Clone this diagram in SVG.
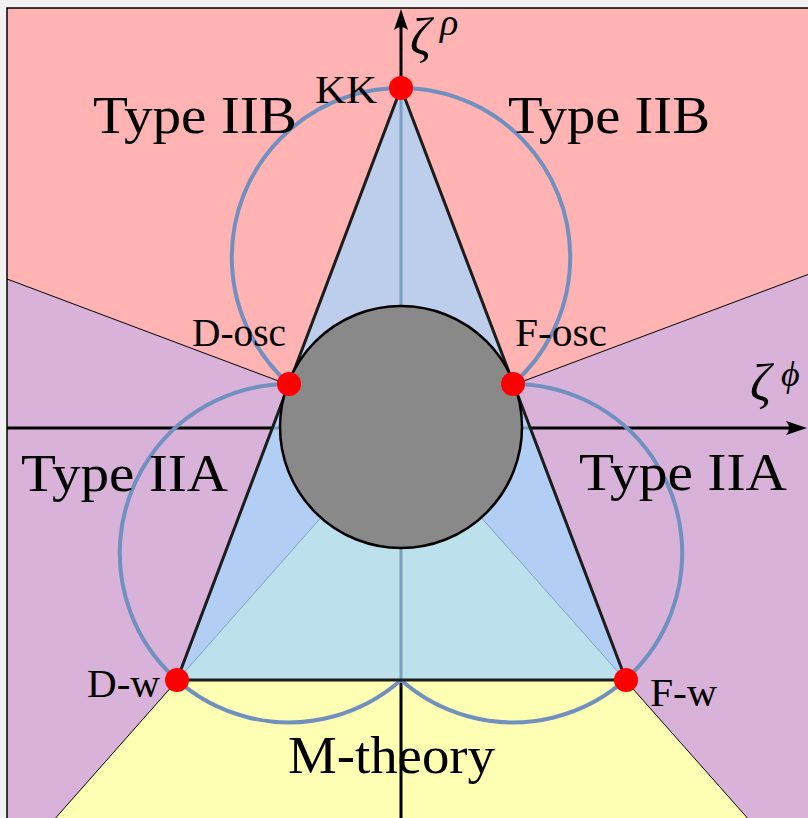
<svg xmlns="http://www.w3.org/2000/svg" width="808" height="818" viewBox="0 0 808 818">
<defs>
<style>
.lbl{font-family:"Liberation Serif","DejaVu Serif",serif;fill:#000}
.big{font-size:53px}
.sm{font-size:39px}
.zeta{font-family:"Liberation Serif","DejaVu Serif",serif;font-style:italic;fill:#000}
.bnd{stroke:#000;stroke-width:1;fill:none}
.axis{stroke:#000;stroke-width:3;fill:none}
.arc{stroke:#7090bf;stroke-width:4;fill:none}
.dot{fill:#ff0000}
</style>
<clipPath id="frame"><rect x="7" y="8" width="810" height="820"/></clipPath>
<marker id="arr" markerUnits="userSpaceOnUse" viewBox="0 0 24 16" markerWidth="24" markerHeight="16" refX="14" refY="8" orient="auto">
<path d="M22,8 L1,1 Q7,8 1,15 Z" fill="#000"/>
</marker>
</defs>
<rect x="0" y="0" width="808" height="818" fill="#f2f2f2"/>
<g id="regions" clip-path="url(#frame)">
<polygon points="401,427 7,279 7,8 820,8 820,270" fill="#ffb3b3"/>
<polygon points="401,427 7,279 7,830 45,830" fill="#d8b2d8"/>
<polygon points="401,427 820,270 820,830 758,830" fill="#d8b2d8"/>
<polygon points="401,427 45,830 758,830" fill="#ffffb3"/>
<path class="bnd" d="M401,427 L7,279 M401,427 L820,270 M401,427 L45,830 M401,427 L758,830"/>
</g>
<rect x="7" y="8" width="812" height="822" fill="none" stroke="#000" stroke-width="1.5"/>
<g id="axes">
<line class="axis" x1="7" y1="428" x2="799" y2="428" marker-end="url(#arr)"/>
<line class="axis" x1="401" y1="818" x2="401" y2="17" marker-end="url(#arr)"/>
</g>
<g id="connectors">
<path class="arc" d="M289,384 A169.2,169.2 0 1 1 513,384"/>
<path class="arc" d="M289,384 A169.2,169.2 0 1 0 401,680"/>
<path class="arc" d="M513,384 A169.2,169.2 0 1 1 401,680"/>
<polygon points="401,88 177,680 626,680" fill="rgb(165,215,255)" fill-opacity="0.75" stroke="#1c1c1c" stroke-width="3" stroke-linejoin="round"/>
</g>
<g id="singularity">
<circle cx="401" cy="427" r="121" fill="#898989" stroke="#000" stroke-width="2.5"/>
</g>
<g id="KK"><circle class="dot" cx="401" cy="88" r="12"/><text class="lbl sm" x="315" y="103" textLength="62" lengthAdjust="spacingAndGlyphs">KK</text></g>
<g id="D-osc"><circle class="dot" cx="289" cy="384" r="12"/><text class="lbl sm" x="192" y="346" textLength="94" lengthAdjust="spacingAndGlyphs">D-osc</text></g>
<g id="F-osc"><circle class="dot" cx="513" cy="384" r="12"/><text class="lbl sm" x="515" y="346" textLength="92" lengthAdjust="spacingAndGlyphs">F-osc</text></g>
<g id="D-w"><circle class="dot" cx="177" cy="680" r="12"/><text class="lbl sm" x="87" y="697" textLength="73" lengthAdjust="spacingAndGlyphs">D-w</text></g>
<g id="F-w"><circle class="dot" cx="626" cy="680" r="12"/><text class="lbl sm" x="650" y="706" textLength="67" lengthAdjust="spacingAndGlyphs">F-w</text></g>
<g id="typeIIB-left"><text class="lbl big" x="93" y="133" textLength="204" lengthAdjust="spacingAndGlyphs">Type IIB</text></g>
<g id="typeIIB-right"><text class="lbl big" x="508" y="133" textLength="202" lengthAdjust="spacingAndGlyphs">Type IIB</text></g>
<g id="typeIIA-left"><text class="lbl big" x="21" y="491" textLength="207" lengthAdjust="spacingAndGlyphs">Type IIA</text></g>
<g id="typeIIA-right"><text class="lbl big" x="579" y="490" textLength="208" lengthAdjust="spacingAndGlyphs">Type IIA</text></g>
<g id="M-theory"><text class="lbl big" x="288" y="773" textLength="207" lengthAdjust="spacingAndGlyphs">M-theory</text></g>
<g id="zeta-rho"><text class="zeta" x="410" y="54" font-size="52">ζ</text><text class="zeta" x="440" y="35" font-size="38">ρ</text></g>
<g id="zeta-phi"><text class="zeta" x="750" y="400" font-size="52">ζ</text><text class="zeta" x="781" y="386" font-size="36">ϕ</text></g>
</svg>
